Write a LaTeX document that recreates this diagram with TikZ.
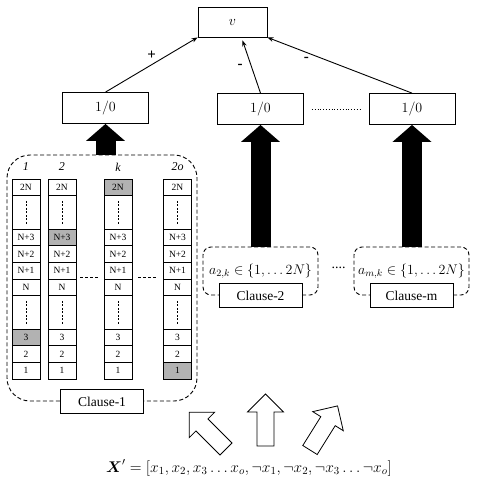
\RequirePackage{fix-cm}
\documentclass[tikz,border=0pt]{standalone}
\usepackage{amsmath}
\usepackage{fontspec}
\setmainfont{Liberation Serif}
\usetikzlibrary{positioning,arrows.meta,calc}
\def\cellh{16.67}

\begin{document}
\begin{tikzpicture}[x=1pt,y=1pt,
    box/.style={draw,line width=0.8pt,minimum width=86,minimum height=31,inner sep=0pt,font=\fontsize{14}{16}\selectfont},
    cell/.style={draw,line width=0.8pt,minimum width=28,minimum height=\cellh,inner sep=0pt,font=\fontsize{9.5}{10}\selectfont},
    cell fill/.code={\ifnum#1=\g\relax\tikzset{fill=gray!60}\fi},
    clause/.style={draw,dash pattern=on 4pt off 2.5pt,rounded corners=#1,line width=0.9pt,inner sep=0pt,font=\fontsize{14}{16}\selectfont},
    tag/.style={draw,fill=white,line width=0.8pt,minimum width=83,minimum height=24,inner sep=0pt,font=\fontsize{13.5}{15}\selectfont},
    sign/.style={font=\fontsize{15}{16}\selectfont\bfseries},
    link/.style={-{Stealth[length=6pt,width=4.5pt]},line width=0.9pt},
    thick arrow/.style={line width=20pt,-{Triangle[width=38pt,length=17pt]}},
    hollow/.pic={\draw[line width=0.8pt,fill=white] (-8.5,0) -- (-8.5,34) -- (-18,34) -- (0,52) -- (18,34) -- (8.5,34) -- (8.5,0) -- cycle;}]
    \useasboundingbox (0,0) rectangle (478,-483);
    % output and clause results
    \node[box,minimum width=69,minimum height=30] (v) at (232.5,-22) {$v$};
    \node[box] (b1) at (105.5,-108) {$1/0$};
    \node[box] (b2) at (260.5,-109) {$1/0$};
    \node[box] (b3) at (412,-109) {$1/0$};
    \draw[dotted,line width=0.8pt] ([xshift=8]b2.east) -- ([xshift=-7]b3.west);
    \draw[link] (b1.north) -- (v.south west) node[sign,midway,above=1pt]{+};
    \draw[link] (b2.north) -- ([xshift=10,yshift=-3]v.south) node[sign,midway,left=5pt]{-};
    \draw[link] (b3.north) -- (v.south east) node[sign,pos=0.73,below=1pt]{-};
    % clauses
    \node[clause=23pt,minimum width=190,minimum height=246] (cl1) at (102,-278) {};
    \node[tag] (t1) at (cl1.south) {Clause-1};
    \node[clause=8pt,minimum width=115,minimum height=48] (cl2) at (260.5,-271) {$a_{2,k}\in\{1,\ldots 2N\}$};
    \node[tag] (t2) at (cl2.south) {Clause-2};
    \node[clause=8pt,minimum width=115,minimum height=48] (clm) at (411.5,-271) {$a_{m,k}\in\{1,\ldots 2N\}$};
    \node[tag] (tm) at (clm.south) {Clause-m};
    \node[font=\fontsize{14}{16}\selectfont] (gap) at (338.5,-268) {....};
    \draw[thick arrow] (b1.south |- cl1.north) -- (b1.south);
    \draw[thick arrow] (b2.south |- cl2.north) -- (b2.south);
    \draw[thick arrow] (b3.south |- clm.north) -- (b3.south);
    % columns of clause-1
    \foreach \x/\g/\lab [count=\c] in {26/9/1, 62/3/2, 118/0/k, 177.5/11/2o}{
        \node[font=\fontsize{12}{14}\selectfont\itshape] (h\c) at (\x,-167) {\lab};
        \foreach \r/\txt in {0/2N, 3/N+3, 4/N+2, 5/N+1, 6/N, 9/3, 10/2, 11/1}
            \node[cell,cell fill=\r] (c\c-\r) at (\x,{-179-(\r+0.5)*\cellh}) {\txt};
        \foreach \r in {1,7}{
            \node[cell,minimum height=2*\cellh] (c\c-\r) at (\x,{-179-(\r+1)*\cellh}) {};
            \draw[dash pattern=on 2pt off 1.5pt,line width=0.7pt] ([yshift=11.5]c\c-\r.center) -- ([yshift=-11.5]c\c-\r.center);
        }
    }
    \draw[dash pattern=on 3pt off 2pt,line width=0.7pt] ([xshift=4,yshift=2]c2-5.south east) -- ([xshift=-4,yshift=2]c3-5.south west);
    \draw[dash pattern=on 3pt off 2pt,line width=0.7pt] ([xshift=6,yshift=2]c3-5.south east) -- ([xshift=-5,yshift=2]c4-5.south west);
    % input vector
    \pic[rotate=45] at (226,-449) {hollow};
    \pic at (265.5,-446) {hollow};
    \pic[rotate=-32] at (310,-450) {hollow};
    \node[font=\fontsize{15.5}{17}\selectfont] (xvec) at (249,-468) {$\boldsymbol{X}'=[x_1,x_2,x_3\ldots x_o,\neg x_1,\neg x_2,\neg x_3\ldots\neg x_o]$};
\end{tikzpicture}
\end{document}
